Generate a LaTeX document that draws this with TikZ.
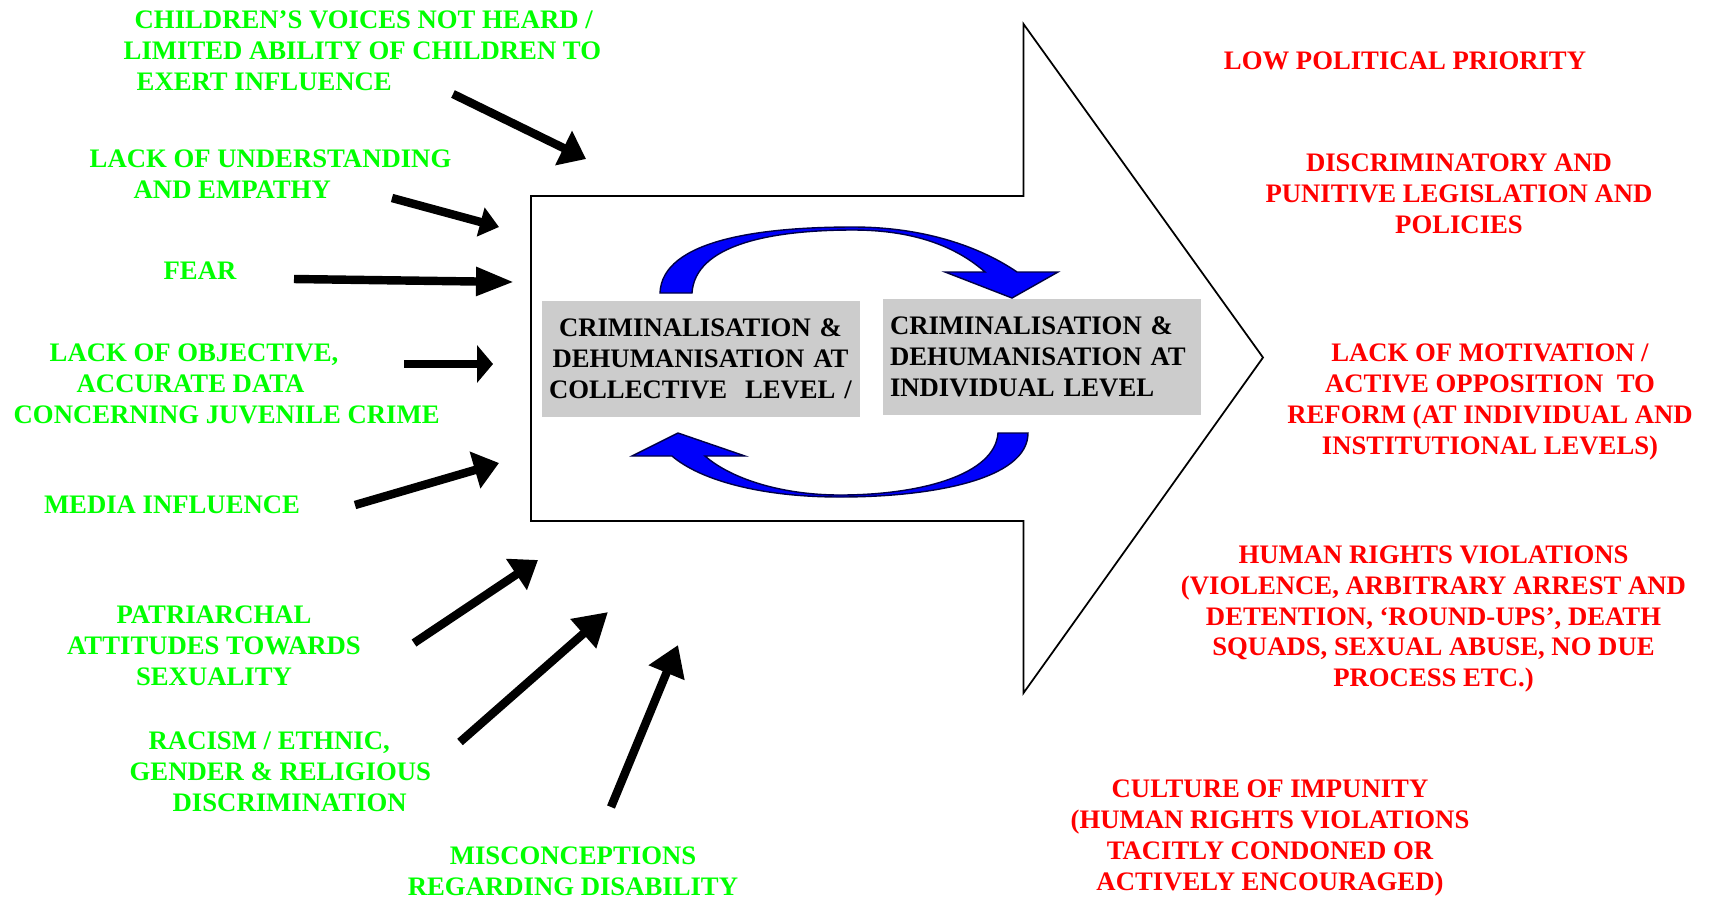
\documentclass[tikz,border=0pt]{standalone}
\usepackage{fontspec}
\setmainfont{Liberation Serif}[BoldFont={Liberation Serif Bold}]
\newfontfamily\labelfont{Liberation Serif Bold}
\usetikzlibrary{arrows.meta}
\definecolor{causegreen}{RGB}{0,255,0}
\definecolor{effectred}{RGB}{255,0,0}
\definecolor{boxgray}{RGB}{204,204,204}
\definecolor{arcblue}{RGB}{0,0,250}
\definecolor{arcedge}{RGB}{0,0,70}
\begin{document}
\begin{tikzpicture}[
        every node/.style={font=\labelfont\fontsize{7.6}{8.8}\selectfont, inner sep=0pt},
        cause/.style={text=causegreen},
        effect/.style={text=effectred, align=center},
        stagebox/.style={fill=boxgray, minimum height=1.16cm, text width=3.04cm, inner xsep=0.07cm},
        bluearc/.style={fill=arcblue, draw=arcedge, line width=0.4pt}]
    \useasboundingbox (0,0) rectangle (17.09,-8.97);
    \draw[line width=0.5pt] (5.31,-1.96) coordinate (A)-- (10.235,-1.96)-- (10.235,-0.24)
        -- (12.63,-3.575) coordinate (T)-- (10.235,-6.93)-- (10.235,-5.21)-- (5.31,-5.21)-- cycle;
    % the two levels
    \filldraw[bluearc] (6.60,-2.93) .. controls (6.62,-2.40) and (7.60,-2.27) .. (8.53,-2.27)
        .. controls (9.30,-2.27) and (9.85,-2.50) .. (10.17,-2.72) -- (10.58,-2.72) -- (10.12,-2.98)
        -- (9.45,-2.72) -- (9.85,-2.72) .. controls (9.60,-2.50) and (9.20,-2.30) .. (8.53,-2.30)
        .. controls (7.70,-2.30) and (6.95,-2.45) .. (6.92,-2.93) -- cycle;
    \filldraw[bluearc] (10.28,-4.33) .. controls (10.28,-4.80) and (9.30,-4.97) .. (8.40,-4.97)
        .. controls (7.60,-4.97) and (7.00,-4.80) .. (6.72,-4.56) -- (6.32,-4.56) -- (6.78,-4.33)
        -- (7.45,-4.56) -- (7.05,-4.56) .. controls (7.30,-4.78) and (7.80,-4.95) .. (8.40,-4.95)
        .. controls (9.20,-4.95) and (9.95,-4.75) .. (9.98,-4.33) -- cycle;
    \node[stagebox, align=center] (collective) at (7.005,-3.59)
        {CRIMINALISATION \&\\DEHUMANISATION AT\\COLLECTIVE\ \ LEVEL /};
    \node[stagebox, align=left] (individual) at (10.42,-3.565)
        {CRIMINALISATION \&\\DEHUMANISATION AT\\INDIVIDUAL LEVEL};
    % causes
    \node[cause, align=left, anchor=west] (voices) at (1.23,-0.505)
        {\hspace*{0.11cm}CHILDREN’S VOICES NOT HEARD /\\LIMITED ABILITY OF CHILDREN TO\\\hspace*{0.13cm}EXERT INFLUENCE};
    \node[cause, align=left, anchor=west] (empathy) at (0.89,-1.745)
        {LACK OF UNDERSTANDING\\\hspace*{0.44cm}AND EMPATHY};
    \node[cause] (fear) at (2.00,-2.71) {FEAR};
    \node[cause, align=left, anchor=west] (data) at (0.13,-3.84)
        {\hspace*{0.36cm}LACK OF OBJECTIVE,\\\hspace*{0.63cm}ACCURATE DATA\\CONCERNING JUVENILE CRIME};
    \node[cause] (media) at (1.72,-5.05) {MEDIA INFLUENCE};
    \node[cause, align=center] (patriarchal) at (2.14,-6.455)
        {PATRIARCHAL\\ATTITUDES TOWARDS\\SEXUALITY};
    \node[cause, align=left, anchor=west] (racism) at (1.29,-7.72)
        {\hspace*{0.19cm}RACISM / ETHNIC,\\GENDER \& RELIGIOUS\\\hspace*{0.43cm}DISCRIMINATION};
    \node[cause, align=center] (disability) at (5.73,-8.71)
        {MISCONCEPTIONS\\REGARDING DISABILITY};
    % effects
    \node[effect] (priority) at (14.05,-0.61) {LOW POLITICAL PRIORITY};
    \node[effect] (legislation) at (14.59,-1.94)
        {DISCRIMINATORY AND\\PUNITIVE LEGISLATION AND\\POLICIES};
    \node[effect] (reform) at (14.90,-4.02)
        {LACK OF MOTIVATION /\\ACTIVE OPPOSITION\ \ TO\\REFORM (AT INDIVIDUAL AND\\INSTITUTIONAL LEVELS)};
    \node[effect] (violations) at (14.335,-6.19)
        {HUMAN RIGHTS VIOLATIONS\\(VIOLENCE, ARBITRARY ARREST AND\\DETENTION, ‘ROUND-UPS’, DEATH\\SQUADS, SEXUAL ABUSE, NO DUE\\PROCESS ETC.)};
    \node[effect] (impunity) at (12.70,-8.38)
        {CULTURE OF IMPUNITY\\(HUMAN RIGHTS VIOLATIONS\\TACITLY CONDONED OR\\ACTIVELY ENCOURAGED)};
    \coordinate (from1) at (4.53,-0.94);  \coordinate (to1) at (5.86,-1.59);
    \coordinate (from2) at (3.92,-1.98);  \coordinate (to2) at (4.99,-2.27);
    \coordinate (from3) at (2.94,-2.79);  \coordinate (to3) at (5.14,-2.82);
    \coordinate (from4) at (4.04,-3.64);  \coordinate (to4) at (4.93,-3.64);
    \coordinate (from5) at (3.55,-5.05);  \coordinate (to5) at (4.99,-4.63);
    \coordinate (from6) at (4.14,-6.43);  \coordinate (to6) at (5.38,-5.60);
    \coordinate (from7) at (4.60,-7.42);  \coordinate (to7) at (6.08,-6.12);
    \coordinate (from8) at (6.11,-8.07);  \coordinate (to8) at (6.78,-6.45);
    \foreach \i/\hlen/\hwid in {1/2.5/3.7, 2/1.9/2.9, 3/3.8/2.7, 4/1.6/3.7, 5/2.5/3.7, 6/2.6/3.6, 7/3.3/3.7, 8/3.0/3.7}
        \draw[line width=2.4pt, -{Triangle[length=\hlen mm, width=\hwid mm]}] (from\i) -- (to\i);
\end{tikzpicture}
\end{document}
